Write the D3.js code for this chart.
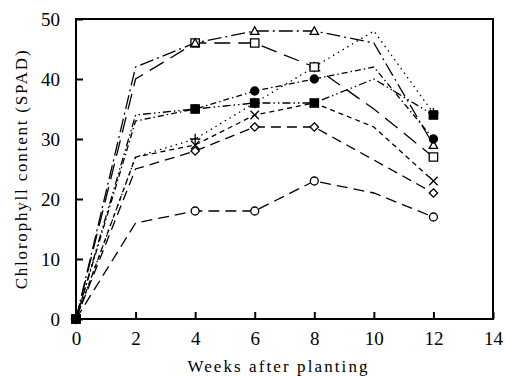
<!DOCTYPE html>
<html>
<head>
<meta charset="utf-8">
<script src="https://cdn.jsdelivr.net/npm/d3@7"></script>
<style>
  body { margin: 0; background: #fff; }
  text { font-family: "Liberation Serif", "DejaVu Serif", serif; fill: #000; }
</style>
</head>
<body>
<div class="chart"></div>
<script>
// weeks after planting (week 2 and 10 have no markers in the figure)
const weeks = [0, 2, 4, 6, 8, 10, 12];
const markedWeeks = [0, 4, 6, 8, 12];

const circleOpen   = [0, 16, 18, 18, 23, 21, 17];
const diamondOpen  = [0, 25, 28, 32, 32, 26.5, 21];
const crossX       = [0, 27, 29, 34, 36, 32, 23];
const plusSign     = [0, 27, 30, 36, 42, 48, 34.3];
const squareOpen   = [0, 40, 46, 46, 42, 35, 27];
const triangleOpen = [0, 42, 46, 48, 48, 46, 29];
const circleFilled = [0, 33, 35, 38, 40, 42, 30];
const squareFilled = [0, 34, 35, 36, 36, 40, 34];

const xTicks = [0, 2, 4, 6, 8, 10, 12, 14];
const yTicks = [0, 10, 20, 30, 40, 50];

const series = [
  {name: "circleOpen", values: circleOpen, marker: "circle", fill: "#fff", dash: "11,6"},
  {name: "diamondOpen", values: diamondOpen, marker: "diamond", fill: "#fff", dash: "10,6"},
  {name: "crossX", values: crossX, marker: "times", fill: "none", dash: "5,4"},
  {name: "plusSign", values: plusSign, marker: "plus", fill: "none", dash: "1.5,4"},
  {name: "squareOpen", values: squareOpen, marker: "square", fill: "#fff", dash: "16,8"},
  {name: "triangleOpen", values: triangleOpen, marker: "triangle", fill: "#fff", dash: "14,4,2,4"},
  {name: "circleFilled", values: circleFilled, marker: "circle", fill: "#000", dash: "6,3,1.5,3"},
  {name: "squareFilled", values: squareFilled, marker: "square", fill: "#000", dash: "8,3,1.5,3,1.5,3"}
];

const width = 505, height = 376;
const margin = {left: 76, right: 12, top: 19, bottom: 57};

const svg = d3.select(".chart").append("svg")
  .attr("width", width)
  .attr("height", height);

const x = d3.scaleLinear().domain([0, 14]).range([margin.left, width - margin.right]);
const y = d3.scaleLinear().domain([0, 50]).range([height - margin.bottom, margin.top]);

// marker shapes
const markerPath = (type) => {
  const s = 4.2;
  switch (type) {
    case "circle": return d3.symbol(d3.symbolCircle, 50)();
    case "square": return `M${-s},${-s}H${s}V${s}H${-s}Z`;
    case "triangle": return `M0,${-s}L${s},${s * 0.8}H${-s}Z`;
    case "diamond": return `M0,${-s}L${s},0L0,${s}L${-s},0Z`;
    case "plus": return `M0,${-s - 1}V${s + 1}M${-s - 1},0H${s + 1}`;
    case "times": return `M${-s},${-s}L${s},${s}M${s},${-s}L${-s},${s}`;
  }
};

const line = d3.line()
  .x(d => x(d.week))
  .y(d => y(d.value));

const plotData = series.map(s => ({
  ...s,
  points: weeks.map((w, i) => ({week: w, value: s.values[i]}))
}));

const lines = svg.append("g")
  .selectAll("g")
  .data(plotData)
  .join("g");

lines.append("path")
  .attr("d", d => line(d.points))
  .attr("fill", "none")
  .attr("stroke", "#000")
  .attr("stroke-width", 1.3)
  .attr("stroke-dasharray", d => d.dash);

lines.each(function (s) {
  d3.select(this).append("g")
    .selectAll("path")
    .data(s.points.filter(p => markedWeeks.includes(p.week)))
    .join("path")
    .attr("transform", p => `translate(${x(p.week)},${y(p.value)})`)
    .attr("d", markerPath(s.marker))
    .attr("fill", s.fill)
    .attr("stroke", "#000")
    .attr("stroke-width", 1.3);
});

// frame
svg.append("rect")
  .attr("x", x(0))
  .attr("y", y(50))
  .attr("width", x(14) - x(0))
  .attr("height", y(0) - y(50))
  .attr("fill", "none")
  .attr("stroke", "#000")
  .attr("stroke-width", 2);

// axes with inward ticks
svg.append("g")
  .attr("transform", `translate(0,${y(0)})`)
  .call(d3.axisBottom(x).tickValues(xTicks).tickSize(-7).tickPadding(13))
  .call(g => g.select(".domain").remove())
  .call(g => g.selectAll(".tick line").attr("stroke-width", 2))
  .call(g => g.selectAll(".tick text").style("font-size", "19px"));

svg.append("g")
  .attr("transform", `translate(${x(0)},0)`)
  .call(d3.axisLeft(y).tickValues(yTicks).tickSize(-7).tickPadding(16))
  .call(g => g.select(".domain").remove())
  .call(g => g.selectAll(".tick line").attr("stroke-width", 2))
  .call(g => g.selectAll(".tick text").style("font-size", "19px"));

svg.append("text")
  .attr("x", (x(0) + x(14)) / 2 - 6)
  .attr("y", 372)
  .attr("text-anchor", "middle")
  .style("font-size", "17px")
  .style("letter-spacing", "2.1px")
  .text("Weeks after planting");

svg.append("text")
  .attr("transform", `translate(27,${(y(0) + y(50)) / 2}) rotate(-90)`)
  .attr("text-anchor", "middle")
  .style("font-size", "17px")
  .style("letter-spacing", "1.8px")
  .text("Chlorophyll content (SPAD)");
</script>
</body>
</html>
